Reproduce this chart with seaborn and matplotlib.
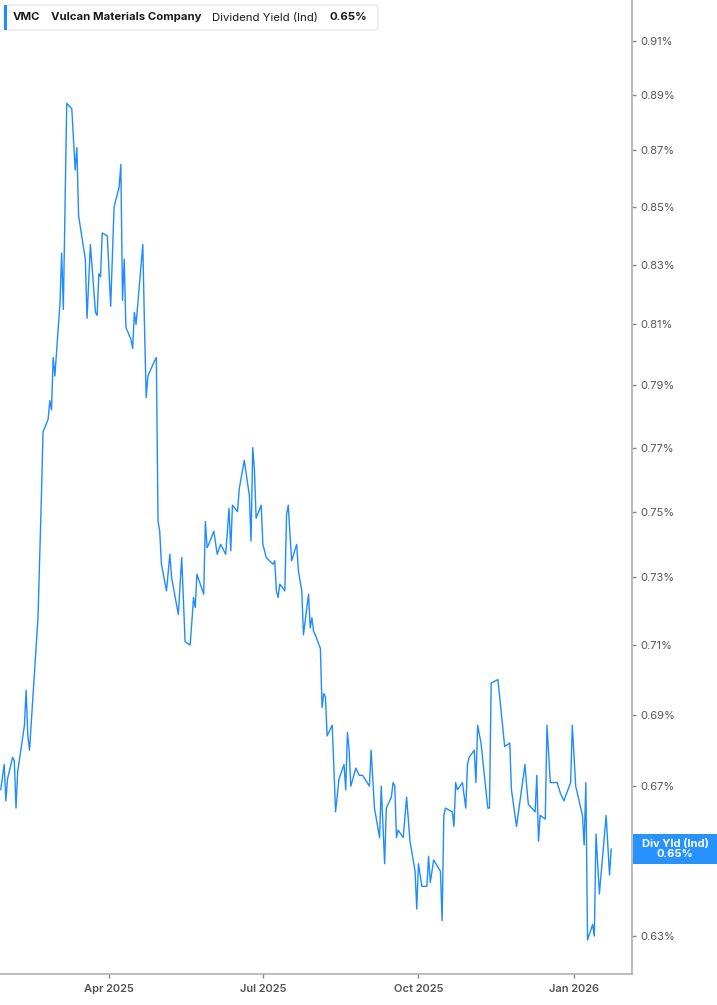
import pandas as pd
import matplotlib.pyplot as plt
import matplotlib.dates as mdates
import matplotlib.ticker as mticker
from matplotlib.patches import FancyBboxPatch, Rectangle
import seaborn as sns

# Dividend yield (indicated), %, turning points only
dates = [
    "2025-01-27", "2025-01-29", "2025-01-30", "2025-01-31",
    "2025-02-03", "2025-02-04", "2025-02-05", "2025-02-06", "2025-02-10", "2025-02-11", "2025-02-12",
    "2025-02-13", "2025-02-18", "2025-02-20", "2025-02-21", "2025-02-24", "2025-02-25", "2025-02-26",
    "2025-02-27", "2025-02-28",
    "2025-03-03", "2025-03-04", "2025-03-05", "2025-03-07", "2025-03-10", "2025-03-12", "2025-03-13",
    "2025-03-14", "2025-03-18", "2025-03-19", "2025-03-21", "2025-03-24", "2025-03-25", "2025-03-26",
    "2025-03-27", "2025-03-28", "2025-03-31",
    "2025-04-02", "2025-04-04", "2025-04-07", "2025-04-08", "2025-04-09", "2025-04-10", "2025-04-11",
    "2025-04-14", "2025-04-15", "2025-04-16", "2025-04-17", "2025-04-21", "2025-04-22", "2025-04-23",
    "2025-04-24", "2025-04-28", "2025-04-29", "2025-04-30",
    "2025-05-01", "2025-05-02", "2025-05-05", "2025-05-07", "2025-05-08", "2025-05-12", "2025-05-14",
    "2025-05-16", "2025-05-19", "2025-05-21", "2025-05-22", "2025-05-23", "2025-05-27", "2025-05-28",
    "2025-05-29", "2025-05-30",
    "2025-06-02", "2025-06-04", "2025-06-06", "2025-06-09", "2025-06-11", "2025-06-12", "2025-06-13",
    "2025-06-16", "2025-06-17", "2025-06-20", "2025-06-23", "2025-06-24", "2025-06-25", "2025-06-26",
    "2025-06-27", "2025-06-30",
    "2025-07-01", "2025-07-03", "2025-07-07", "2025-07-08", "2025-07-09", "2025-07-10", "2025-07-11",
    "2025-07-14", "2025-07-15", "2025-07-16", "2025-07-18", "2025-07-21", "2025-07-22", "2025-07-24",
    "2025-07-25", "2025-07-28", "2025-07-29", "2025-07-30", "2025-07-31",
    "2025-08-01", "2025-08-04", "2025-08-05", "2025-08-06", "2025-08-07", "2025-08-08", "2025-08-11",
    "2025-08-13", "2025-08-15", "2025-08-18", "2025-08-19", "2025-08-20", "2025-08-21", "2025-08-22",
    "2025-08-25", "2025-08-27", "2025-08-29",
    "2025-09-02", "2025-09-03", "2025-09-05", "2025-09-08", "2025-09-09", "2025-09-11", "2025-09-12",
    "2025-09-15", "2025-09-16", "2025-09-17", "2025-09-18", "2025-09-19", "2025-09-22", "2025-09-24",
    "2025-09-26", "2025-09-29", "2025-09-30",
    "2025-10-01", "2025-10-03", "2025-10-06", "2025-10-07", "2025-10-08", "2025-10-10", "2025-10-14",
    "2025-10-15", "2025-10-16", "2025-10-17", "2025-10-21", "2025-10-22", "2025-10-23", "2025-10-24",
    "2025-10-27", "2025-10-29", "2025-10-30", "2025-10-31",
    "2025-11-03", "2025-11-04", "2025-11-05", "2025-11-07", "2025-11-11", "2025-11-12", "2025-11-13",
    "2025-11-17", "2025-11-21", "2025-11-24", "2025-11-25", "2025-11-28",
    "2025-12-03", "2025-12-04", "2025-12-05", "2025-12-09", "2025-12-10", "2025-12-11", "2025-12-12",
    "2025-12-15", "2025-12-16", "2025-12-18", "2025-12-22", "2025-12-24", "2025-12-26", "2025-12-30",
    "2025-12-31",
    "2026-01-02", "2026-01-06", "2026-01-07", "2026-01-08", "2026-01-09", "2026-01-12", "2026-01-13",
    "2026-01-14", "2026-01-16", "2026-01-20", "2026-01-22", "2026-01-23",
]
yields = [
    0.669, 0.676, 0.666, 0.672,
    0.678, 0.677, 0.664, 0.674, 0.687, 0.697, 0.684,
    0.680, 0.718, 0.754, 0.775, 0.779, 0.785, 0.782,
    0.799, 0.793,
    0.817, 0.834, 0.815, 0.887, 0.885, 0.863, 0.871,
    0.847, 0.832, 0.812, 0.837, 0.814, 0.813, 0.827,
    0.826, 0.841, 0.840,
    0.816, 0.850, 0.857, 0.865, 0.818, 0.832, 0.809,
    0.805, 0.802, 0.814, 0.810, 0.837, 0.809, 0.786,
    0.793, 0.798, 0.799, 0.747,
    0.744, 0.734, 0.726, 0.737, 0.730, 0.719, 0.736,
    0.711, 0.710, 0.724, 0.721, 0.731, 0.725, 0.747,
    0.739, 0.740,
    0.744, 0.737, 0.740, 0.737, 0.751, 0.738, 0.752,
    0.750, 0.757, 0.766, 0.755, 0.741, 0.770, 0.763,
    0.748, 0.752,
    0.740, 0.736, 0.734, 0.735, 0.726, 0.724, 0.728,
    0.726, 0.749, 0.752, 0.735, 0.740, 0.732, 0.726,
    0.713, 0.725, 0.715, 0.718, 0.714,
    0.713, 0.709, 0.692, 0.696, 0.695, 0.684, 0.687,
    0.663, 0.672, 0.676, 0.669, 0.685, 0.680, 0.670,
    0.675, 0.673, 0.673,
    0.670, 0.680, 0.664, 0.656, 0.670, 0.649, 0.664,
    0.667, 0.671, 0.670, 0.656, 0.658, 0.656, 0.667,
    0.655, 0.647, 0.637,
    0.649, 0.643, 0.643, 0.651, 0.644, 0.650, 0.647,
    0.634, 0.662, 0.664, 0.663, 0.659, 0.671, 0.669,
    0.671, 0.664, 0.676, 0.678,
    0.680, 0.671, 0.687, 0.682, 0.664, 0.664, 0.699,
    0.700, 0.681, 0.682, 0.669, 0.659,
    0.676, 0.670, 0.665, 0.663, 0.673, 0.655, 0.662,
    0.661, 0.687, 0.671, 0.671, 0.668, 0.666, 0.671,
    0.687,
    0.670, 0.662, 0.654, 0.671, 0.629, 0.633, 0.630,
    0.657, 0.641, 0.662, 0.646, 0.653,
]
y_ticks = [0.63, 0.65, 0.67, 0.69, 0.71, 0.73, 0.75, 0.77, 0.79, 0.81, 0.83, 0.85, 0.87, 0.89, 0.91]
ticker_sym = "VMC"
company = "Vulcan Materials Company"
metric = "Dividend Yield (Ind)"
current = "0.65%"

df = pd.DataFrame({"date": pd.to_datetime(dates), "yield": yields})

sns.set_style("white")
plt.rcParams["font.family"] = ["Inter", "DejaVu Sans"]

W, H = 717, 1005
fig = plt.figure(figsize=(W / 100, H / 100), dpi=100)
ax = fig.add_axes([0, 31 / H, 632 / W, 974 / H])

blue = "#1e8cff"
sns.lineplot(data=df, x="date", y="yield", ax=ax, color=blue, linewidth=1.0)

ax.set_yscale("log")
ax.set_ylim(0.62025, 0.92546)
ax.set_xlim(pd.Timestamp("2025-01-26 13:00"), pd.Timestamp("2026-02-04 07:00"))
ax.yaxis.tick_right()
ax.set_yticks(y_ticks)
ax.yaxis.set_major_formatter(mticker.FuncFormatter(lambda v, p: f"{v:.2f}%"))
ax.yaxis.set_minor_locator(mticker.NullLocator())
ax.xaxis.set_major_locator(mdates.MonthLocator(bymonth=[1, 4, 7, 10]))
ax.xaxis.set_major_formatter(mdates.DateFormatter("%b %Y"))
ax.set_xlabel("")
ax.set_ylabel("")

ax.tick_params(axis="y", right=True, left=False, length=3, width=1, color="#888888",
               labelcolor="#555555", labelsize=8, pad=3)
ax.tick_params(axis="x", bottom=True, length=3, width=1, color="#888888",
               labelcolor="#555555", labelsize=8, pad=4)
for lbl in ax.get_xticklabels():
    lbl.set_fontweight("semibold")

for side in ["left", "top"]:
    ax.spines[side].set_visible(False)
for side in ["right", "bottom"]:
    ax.spines[side].set_color("#b0b0b0")
    ax.spines[side].set_linewidth(1.2)


def fx(px):
    return px / W


def fy(py):
    return 1 - py / H


# header box
fig.add_artist(FancyBboxPatch((fx(4), fy(30)), fx(378) - fx(4), 25 / H,
                              boxstyle="round,pad=0,rounding_size=0.004",
                              transform=fig.transFigure, fc="white", ec="#e2e2e2", lw=0.8))
fig.add_artist(Rectangle((fx(4), fy(30)), 3 / W, 25 / H, transform=fig.transFigure,
                         fc=blue, ec="none"))
hdr_y = fy(17.5)
fig.text(fx(13), hdr_y, ticker_sym, fontsize=8.2, fontweight="bold", color="#1a1a1a", va="center")
fig.text(fx(51), hdr_y, company, fontsize=8.2, fontweight="bold", color="#1a1a1a", va="center")
fig.text(fx(212), hdr_y, metric, fontsize=8.2, color="#1a1a1a", va="center")
fig.text(fx(329), hdr_y, current, fontsize=8.2, fontweight="bold", color="#1a1a1a", va="center")

# current value tag on the right axis
last = df["yield"].iloc[-1]
y_disp = ax.transData.transform((0, last))[1]
y_fig = fig.transFigure.inverted().transform((0, y_disp))[1]
fig.add_artist(Rectangle((fx(633), y_fig - 15 / H), 1 - fx(633), 30 / H,
                         transform=fig.transFigure, fc="#2893ff", ec="none", zorder=5))
fig.text(fx(675), y_fig, "Div Yld (Ind)\n" + current, fontsize=8, fontweight="bold",
         color="white", ha="center", va="center", linespacing=1.0, zorder=6)

fig.savefig("out.png", dpi=100)
